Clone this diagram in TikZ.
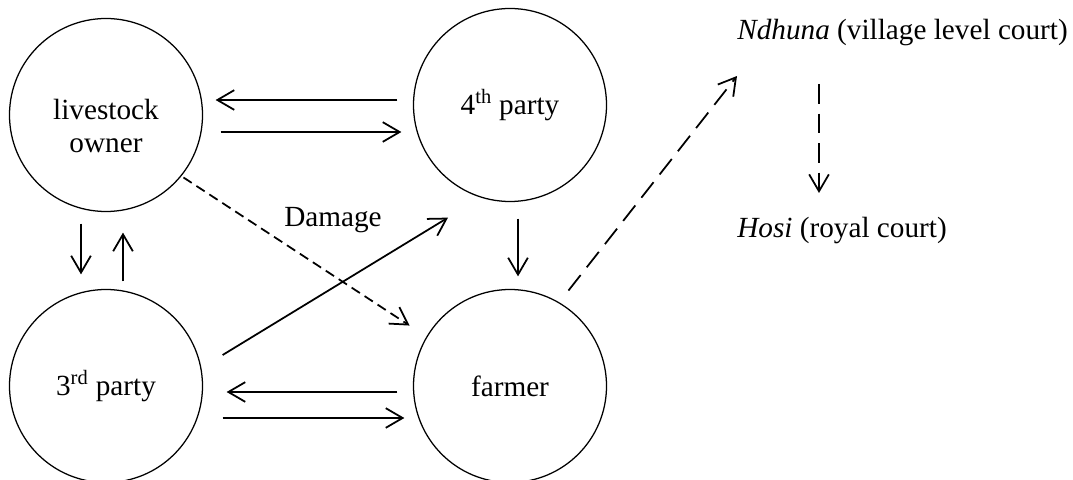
\documentclass[tikz,border=0pt]{standalone}
\usepackage{fontspec}
\setmainfont{Liberation Serif}
\usepackage{tikz}
\usetikzlibrary{arrows.meta}

\begin{document}
\begin{tikzpicture}[
        party/.style={circle, draw, line width=0.9pt, minimum size=4.825cm,
                      inner sep=0pt, align=center},
        flow/.style={-{Straight Barb[length=12pt, width=14pt]}, line width=1.25pt},
        damage/.style={flow, dash pattern=on 7pt off 4pt},
        appeal/.style={flow, dash pattern=on 14pt off 7pt},
        court/.style={anchor=base west, inner sep=0pt},
        every node/.style={font=\fontsize{20.8}{23.5}\selectfont}
      ]
        \useasboundingbox (0,0) rectangle (26.825,11.975);
        % Parties
        \node[party, label={[align=center, yshift=-0.275cm]center:{livestock\\owner}}] (owner) at (2.65, 9.10) {};
        \node[party] (fourth) at (12.75, 9.35) {4\textsuperscript{th} party};
        \node[party] (third)  at (2.65, 2.325) {3\textsuperscript{rd} party};
        \node[party] (farmer) at (12.75, 2.325) {farmer};
        % Courts
        \node[court] (ndhuna) at (18.425, 10.975) {\textit{Ndhuna} (village level court)};
        \node[court] (hosi)   at (18.425, 6.05)   {\textit{Hosi} (royal court)};
        \node (dmg) at (8.325, 6.475) {Damage};
        % Owner <-> 4th party
        \draw[flow] ([shift={(-0.3875,0.125)}]fourth.west) -- ([shift={(0.3125,0.375)}]owner.east);
        \draw[flow] ([shift={(0.4375,-0.425)}]owner.east) -- ([shift={(-0.2875,-0.675)}]fourth.west);
        % Owner <-> 3rd party
        \draw[flow] ([shift={(-0.625,-0.2875)}]owner.south) -- ([shift={(-0.625,0.3625)}]third.north);
        \draw[flow] ([shift={(0.425,0.1875)}]third.north) -- ([shift={(0.425,-0.5125)}]owner.south);
        % 4th party -> farmer, 3rd party -> 4th party
        \draw[flow] ([shift={(0.2,-0.4125)}]fourth.south) -- ([shift={(0.2,0.3125)}]farmer.north);
        \draw[flow] ([shift={(0.4875,0.775)}]third.east) -- ([shift={(-1.55,-0.3875)}]fourth.south);
        % Farmer <-> 3rd party
        \draw[flow] ([shift={(-0.3875,-0.15)}]farmer.west) -- ([shift={(0.5875,-0.15)}]third.east);
        \draw[flow] ([shift={(0.4875,-0.8)}]third.east) -- ([shift={(-0.2125,-0.8)}]farmer.west);
        % Damage
        \draw[damage] ([shift={(0.22,0.155)}]owner.south east) -- ([shift={(-0.794,-0.206)}]farmer.north west);
        % Appeals
        \draw[appeal] ([shift={(-0.256,0.669)}]farmer.north east) -- ([shift={(0,-0.9)}]ndhuna.base west);
        \draw[appeal] ([shift={(2.05,-1.1)}]ndhuna.base west) -- ([shift={(2.05,1.1)}]hosi.base west);
      \end{tikzpicture}
\end{document}
